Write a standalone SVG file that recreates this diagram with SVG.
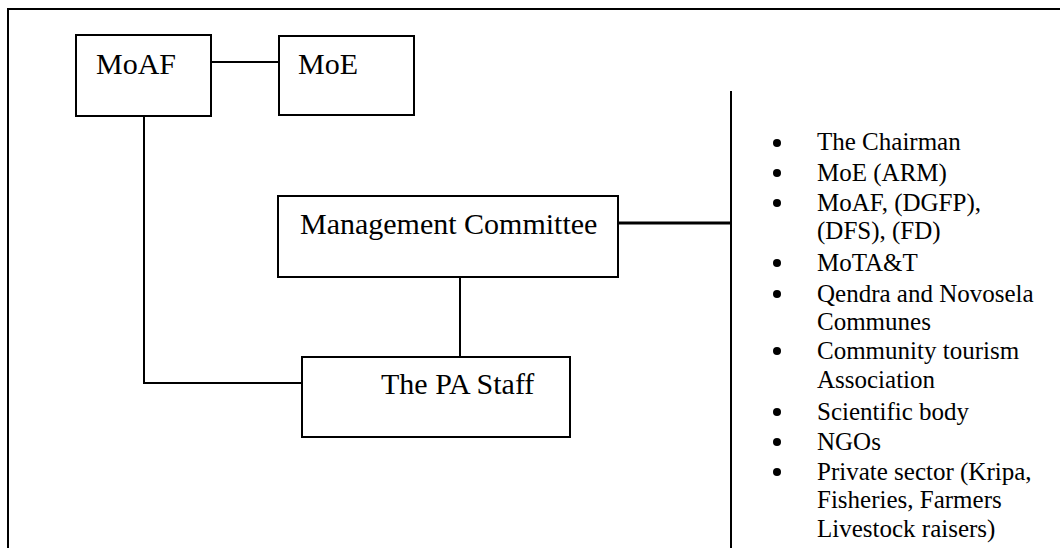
<svg xmlns="http://www.w3.org/2000/svg" width="1060" height="548" viewBox="0 0 1060 548">
<style>
.box{fill:#fff;stroke:#000;stroke-width:2}
.ln{fill:none;stroke:#000;stroke-width:2}
.t{font-family:"Liberation Serif","Times New Roman",serif;fill:#000}
.big{font-size:30px}
.li{font-size:25px}
</style>
<rect width="1060" height="548" fill="#fff"/>
<g id="frame">
<path class="ln" d="M8,548 V9 H1060"/>
</g>
<g id="connectors">
<line class="ln" x1="211" y1="62" x2="279" y2="62"/>
<path class="ln" d="M144,116 V383 H302"/>
<line class="ln" x1="460" y1="277" x2="460" y2="357"/>
<line x1="618" y1="223" x2="731" y2="223" stroke="#000" stroke-width="3"/>
<line class="ln" x1="731" y1="91" x2="731" y2="548"/>
</g>
<g id="moaf">
<rect class="box" x="76" y="35" width="135" height="81"/>
<text class="t big" x="96" y="74">MoAF</text>
</g>
<g id="moe">
<rect class="box" x="279" y="36" width="135" height="79"/>
<text class="t big" x="298" y="74">MoE</text>
</g>
<g id="management-committee">
<rect class="box" x="278" y="196" width="340" height="81"/>
<text class="t big" x="300" y="234">Management Committee</text>
</g>
<g id="pa-staff">
<rect class="box" x="302" y="357" width="268" height="80"/>
<text class="t big" x="381" y="394">The PA Staff</text>
</g>
<g id="members">
<g fill="#000">
<circle cx="777" cy="143" r="4"/>
<circle cx="777" cy="173" r="4"/>
<circle cx="777" cy="203" r="4"/>
<circle cx="777" cy="263" r="4"/>
<circle cx="777" cy="294" r="4"/>
<circle cx="777" cy="351" r="4"/>
<circle cx="777" cy="412" r="4"/>
<circle cx="777" cy="442" r="4"/>
<circle cx="777" cy="472" r="4"/>
</g>
<g class="t li">
<text x="817" y="150">The Chairman</text>
<text x="817" y="180.5">MoE (ARM)</text>
<text x="817" y="210.5">MoAF, (DGFP),</text>
<text x="817" y="238.5">(DFS), (FD)</text>
<text x="817" y="271">MoTA&amp;T</text>
<text x="817" y="301.5">Qendra and Novosela</text>
<text x="817" y="330">Communes</text>
<text x="817" y="359">Community tourism</text>
<text x="817" y="388">Association</text>
<text x="817" y="420">Scientific body</text>
<text x="817" y="450">NGOs</text>
<text x="817" y="480">Private sector (Kripa,</text>
<text x="817" y="508">Fisheries, Farmers</text>
<text x="817" y="537">Livestock raisers)</text>
</g>
</g>
</svg>
